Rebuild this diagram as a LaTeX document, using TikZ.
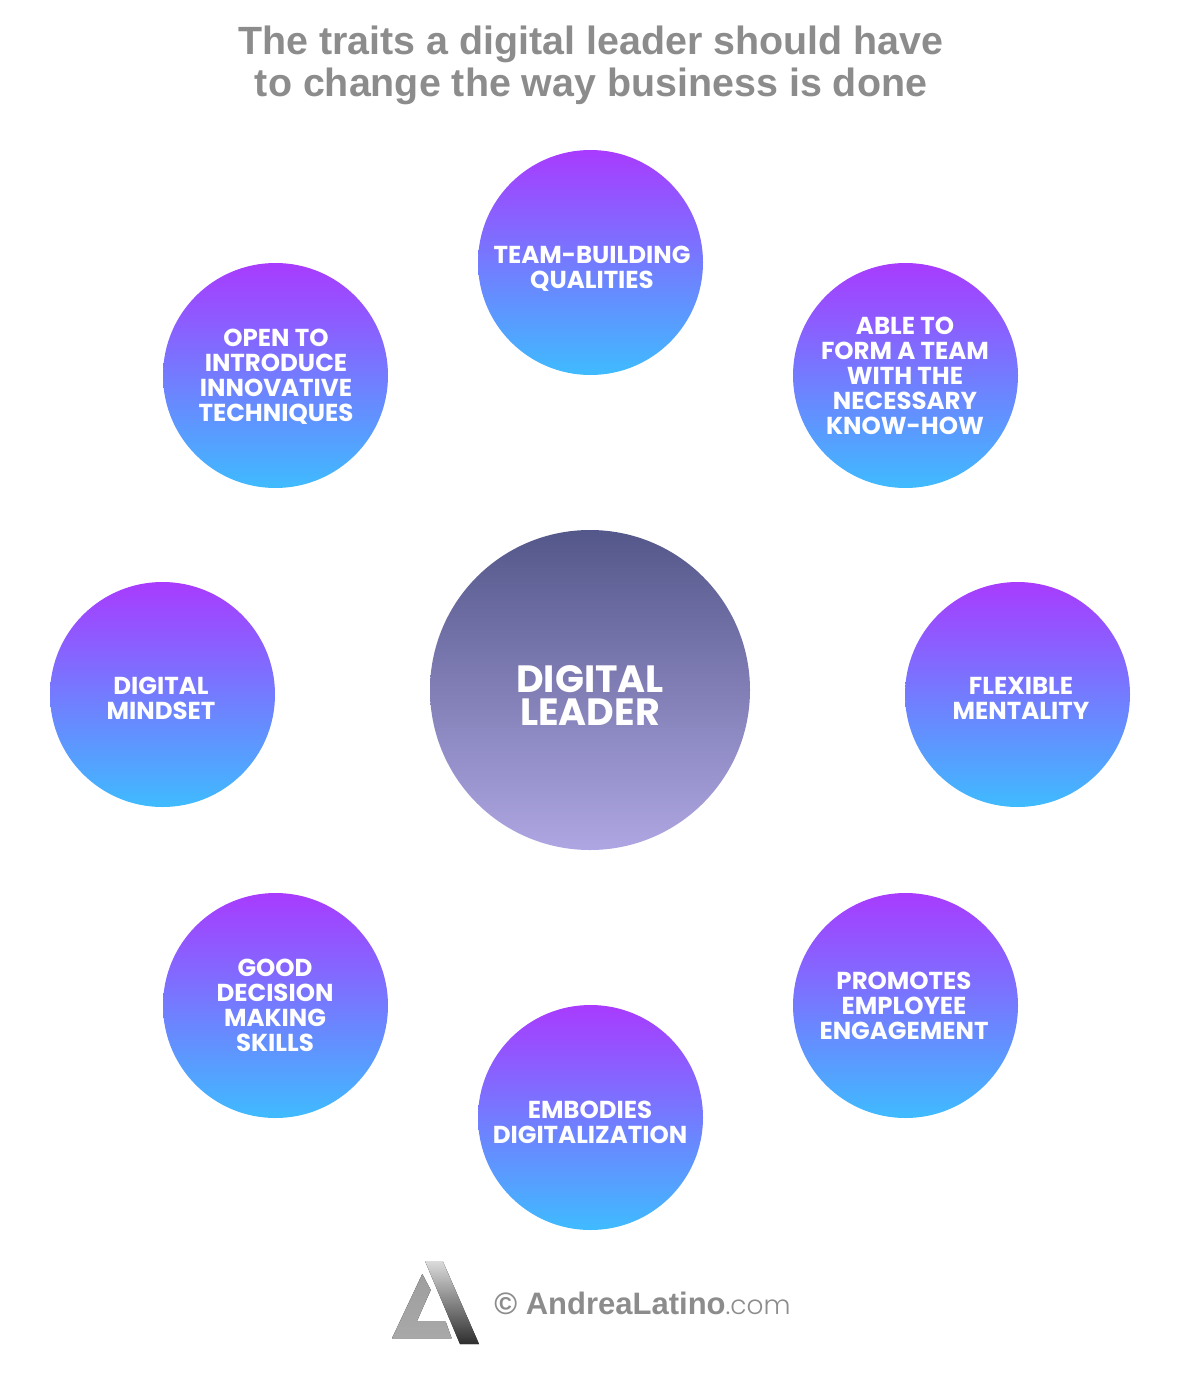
\documentclass[tikz,border=0pt]{standalone}
\usepackage{fontspec}
\setmainfont{Liberation Sans}
\newfontfamily\traitfont{Poppins}
\newfontfamily\traitlight{Poppins Light}
\newlength{\du}
\setlength{\du}{0.5pt}
\definecolor{traittop}{HTML}{A83BFF}
\definecolor{traitmiddle}{HTML}{8488FF}
\definecolor{traitbottom}{HTML}{3FBBFF}
\definecolor{leadertop}{HTML}{54578A}
\definecolor{leaderbottom}{HTML}{AEA6E2}
\definecolor{titlegray}{HTML}{8C8C8C}
\tikzset{
  traitball/.style={circle,minimum size=225\du,inner sep=0pt,top color=traittop,middle color=traitmiddle,bottom color=traitbottom},
  leaderball/.style={circle,minimum size=320\du,inner sep=0pt,top color=leadertop,bottom color=leaderbottom},
  traittext/.style={text=white,align=center,inner sep=0pt,font=\traitfont\bfseries\fontsize{12.25}{12.5}\selectfont},
  leadertext/.style={text=white,align=center,inner sep=0pt,font=\traitfont\bfseries\fontsize{19}{16.5}\selectfont},
  titletext/.style={text=titlegray,align=center,inner sep=0pt,font=\bfseries\fontsize{19.7}{21}\selectfont},
}
\begin{document}
\begin{tikzpicture}
\pgftransformxscale{1.000000}
\pgftransformyscale{-1.000000}
\useasboundingbox (0\du,0\du) rectangle (1180\du,1380\du);
% title
\node[titletext] (title) at (591\du,65\du){The traits a digital leader should have\\to change the way business is done};
% centre
\node[leaderball] (leader) at (590\du,690\du){};
\node[leadertext] (leaderlabel) at (590\du,696\du){DIGITAL\\LEADER};
% circles, clockwise from the top
\node[traitball] (team) at (590.5\du,262.5\du){};
\node[traitball] (form) at (905.5\du,375.5\du){};
\node[traitball] (flexible) at (1017.5\du,694.5\du){};
\node[traitball] (promotes) at (905.5\du,1005.5\du){};
\node[traitball] (embodies) at (590.5\du,1117.5\du){};
\node[traitball] (decision) at (275.5\du,1005.5\du){};
\node[traitball] (mindset) at (162.5\du,694.5\du){};
\node[traitball] (open) at (275.5\du,375.5\du){};
% circle labels
\node[traittext] (teamlabel) at (592\du,268.5\du){TEAM-BUILDING\\QUALITIES};
\node[traittext] (formlabel) at (905\du,376\du){ABLE TO\\FORM A TEAM\\WITH THE\\NECESSARY\\KNOW-HOW};
\node[traittext] (flexiblelabel) at (1021\du,698\du){FLEXIBLE\\MENTALITY};
\node[traittext] (promoteslabel) at (904\du,1006\du){PROMOTES\\EMPLOYEE\\ENGAGEMENT};
\node[traittext] (embodieslabel) at (590\du,1122\du){EMBODIES\\DIGITALIZATION};
\node[traittext] (decisionlabel) at (275\du,1005\du){GOOD\\DECISION\\MAKING\\SKILLS};
\node[traittext] (mindsetlabel) at (161\du,698\du){DIGITAL\\MINDSET};
\node[traittext] (openlabel) at (276\du,377\du){OPEN TO\\INTRODUCE\\INNOVATIVE\\TECHNIQUES};
% logo
\fill[top color=black!38,middle color=black!26,bottom color=black!34] (422.3\du,1274\du)--(392\du,1338.3\du)--(451.7\du,1338.3\du)--(445.7\du,1321.7\du)--(416.7\du,1321.7\du)--(430.7\du,1290\du)--cycle;
\fill[top color=black!14,middle color=black!36,bottom color=black!82] (425\du,1261\du)--(442.7\du,1261\du)--(479\du,1344\du)--(460\du,1344\du)--cycle;
\node[anchor=west,inner sep=0pt,text=titlegray,font=\bfseries\fontsize{15.5}{16}\selectfont] (credit) at (494\du,1303\du){© AndreaLatino{\traitlight\mdseries\fontsize{13.2}{16}\selectfont.com}};
\end{tikzpicture}
\end{document}
